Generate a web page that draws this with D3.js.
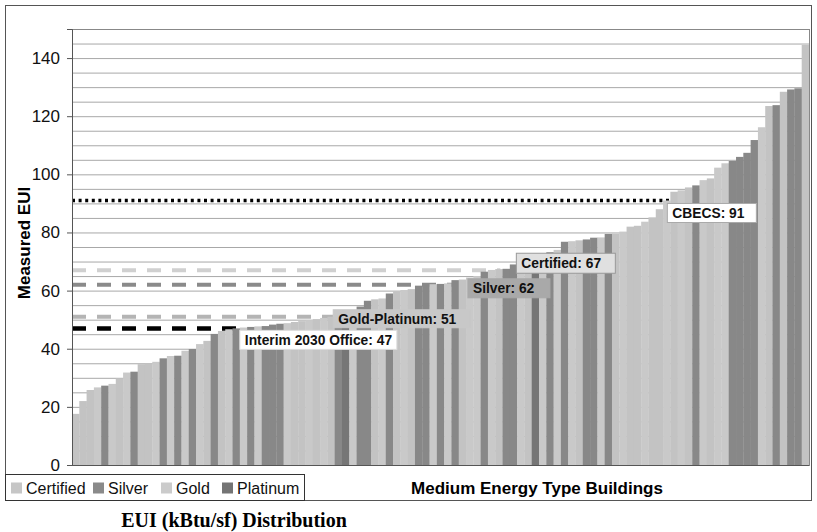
<!DOCTYPE html>
<html><head><meta charset="utf-8">
<script src="https://cdn.jsdelivr.net/npm/d3@7"></script>
<style>html,body{margin:0;padding:0;background:#fff;}svg{display:block;}</style>
</head><body>
<svg id="chart" width="817" height="532"></svg>
<script>
// ---- data ----
const categories = ["Certified", "Silver", "Gold", "Platinum"];
// measured EUI per building, sorted ascending
const euiValues = [17.6,22,25.8,26.7,27.3,27.9,29.8,31.8,32.1,34.7,35.0,35.5,36.7,37.5,37.6,39.3,39.9,41.6,42.7,45.1,
  46.1,46.7,47.0,47.3,47.5,47.7,47.8,48.3,48.6,48.8,49.2,49.5,49.8,50.2,50.6,51.0,51.5,52.0,52.4,54.5,
  56.5,57.0,57.3,59.0,59.8,60.2,60.5,61.7,62.0,62.2,62.3,62.5,63.6,63.8,64.5,65.0,66.5,67.1,67.4,67.5,
  69.0,70.0,71.0,71.5,72.5,73.2,74.0,76.8,77.0,77.3,77.6,78.2,78.3,79.5,79.6,80.3,82.0,82.3,83.7,85.2,
  88.0,91.0,94.0,94.5,95.5,96.2,98.0,98.6,102.3,103.8,104.6,106.0,107.4,111.8,116.2,123.5,123.8,128.4,129.2,129.6,144.5];
// rating per building (C=Certified, S=Silver, G=Gold, P=Platinum), 10 per group
const ratingGroups = ["GGGCSCGCSG","GCSCSCSCGS","GCSCSCSSSC","GGCGCGSPCS","SGCSGCGSSC",
  "SCSGCCSCGS","SCGPCSCSCG","SSCSGCGGCG","GCGCGSCGCC","SSSSCGSGSS","G"];
const yTicks = [0,20,40,60,80,100,120,140];
const refNames = ["CBECS: 91","Certified: 67","Silver: 62","Gold-Platinum: 51","Interim 2030 Office: 47"];
const refValues = [91,67,62,51,47];
const refEndIndex = [82,58.7,53.3,35.8,23]; // line extends to this building position

// ---- style ----
const plot = {left:72, right:809, top:29, bottom:465};
const catColor = {Certified:"#c9c9c9", Silver:"#888888", Gold:"#c3c3c3", Platinum:"#767676"};
const codeMap = {C:"Certified",S:"Silver",G:"Gold",P:"Platinum"};
const refStyles = [
  {stroke:"#000", width:3.5, dash:"3,3.6", box:"#fff", border:"#aaa", dx:-3, dy:3, bh:19, bw:89},
  {stroke:"#d0d0d0", width:4, dash:"14,11", box:"#e0e0e0", border:"#999", dx:16, dy:-17, bh:20, bw:99},
  {stroke:"#8a8a8a", width:4, dash:"14,11", box:"#a9a9a9", border:"#a9a9a9", dx:7, dy:-6, bh:19, bw:82},
  {stroke:"#b4b4b4", width:4, dash:"14,11", box:"#c8c8c8", border:"#c8c8c8", dx:0, dy:-7, bh:18, bw:137},
  {stroke:"#000", width:4.5, dash:"14,11", box:"#fff", border:"#ddd", dx:0, dy:2, bh:19, bw:157}
];

const ratingCodes = ratingGroups.join("").split("");
const svg = d3.select("#chart");
const font = "'Liberation Sans', Arial, sans-serif";

// outer frame
svg.append("rect").attr("x",5.5).attr("y",5.5).attr("width",806).attr("height",495)
  .attr("fill","#fff").attr("stroke","#555").attr("stroke-width",1);

const y = d3.scaleLinear().domain([0,150]).range([plot.bottom, plot.top]);
const x = d3.scaleBand().domain(d3.range(euiValues.length)).range([plot.left, plot.right]).padding(0);
const xPos = d3.scaleLinear().domain([0, euiValues.length]).range([plot.left, plot.right]);

// gridlines every 5
const grid = d3.range(5,151,5);
svg.append("g").selectAll("line").data(grid).join("line")
  .attr("x1",plot.left).attr("x2",plot.right)
  .attr("y1",d=>y(d)+0.5).attr("y2",d=>y(d)+0.5)
  .attr("stroke","#a8a8a8").attr("stroke-width",1);

// reference lines
const refs = refValues.map((v,i)=>({name:refNames[i], v, end:refEndIndex[i], s:refStyles[i]}));
svg.append("g").selectAll("line").data(refs).join("line")
  .attr("x1",plot.left).attr("x2",d=>xPos(d.end))
  .attr("y1",d=>y(d.v)).attr("y2",d=>y(d.v))
  .attr("stroke",d=>d.s.stroke).attr("stroke-width",d=>d.s.width)
  .attr("stroke-dasharray",d=>d.s.dash);

// bars
const bars = euiValues.map((v,i)=>({i, v, cat:codeMap[ratingCodes[i]]}));
svg.append("g").selectAll("rect").data(bars).join("rect")
  .attr("x",d=>x(d.i)).attr("width",x.bandwidth()+0.3)
  .attr("y",d=>y(d.v)).attr("height",d=>y(0)-y(d.v))
  .attr("fill",d=>catColor[d.cat]);

// plot border
svg.append("rect").attr("x",plot.left+0.5).attr("y",plot.top+0.5)
  .attr("width",plot.right-plot.left).attr("height",plot.bottom-plot.top)
  .attr("fill","none").attr("stroke","#888");

// y axis
const yAxis = d3.axisLeft(y).tickValues(yTicks).tickSize(5).tickPadding(7);
const ga = svg.append("g").attr("transform",`translate(${plot.left},0)`).call(yAxis);
ga.select(".domain").attr("stroke","#555");
ga.selectAll(".tick line").attr("stroke","#555");
ga.selectAll(".tick text").attr("font-family",font).attr("font-size",17).attr("fill","#111");

// x axis baseline
svg.append("line").attr("x1",plot.left).attr("x2",plot.right)
  .attr("y1",plot.bottom+0.5).attr("y2",plot.bottom+0.5).attr("stroke","#555");

// reference labels
const lg = svg.append("g").selectAll("g").data(refs).join("g")
  .attr("transform",d=>`translate(${xPos(d.end)+d.s.dx},${y(d.v)+d.s.dy})`);
lg.append("rect").attr("x",0).attr("y",0).attr("width",d=>d.s.bw).attr("height",d=>d.s.bh)
  .attr("fill",d=>d.s.box).attr("stroke",d=>d.s.border);
lg.append("text").attr("x",5).attr("y",d=>d.s.bh/2+5).text(d=>d.name)
  .attr("font-family",font).attr("font-weight","bold").attr("font-size",13.8).attr("fill","#111");

// axis titles
svg.append("text").attr("transform",`translate(30,243) rotate(-90)`)
  .attr("text-anchor","middle").attr("font-family",font).attr("font-weight","bold")
  .attr("font-size",17).text("Measured EUI");
svg.append("text").attr("x",537).attr("y",494).attr("text-anchor","middle")
  .attr("font-family",font).attr("font-weight","bold").attr("font-size",17)
  .text("Medium Energy Type Buildings");

// legend
const legend = svg.append("g");
legend.append("rect").attr("x",5.5).attr("y",474.5).attr("width",299).attr("height",26)
  .attr("fill","#fff").attr("stroke","#333");
const legendColor = {Certified:"#c6c6c6", Silver:"#8a8a8a", Gold:"#cbcbcb", Platinum:"#747474"};
const legX = [11, 93, 161, 222];
const li = legend.selectAll("g").data(categories).join("g")
  .attr("transform",(d,i)=>`translate(${legX[i]},482)`);
li.append("rect").attr("width",11).attr("height",11).attr("y",0.5).attr("fill",d=>legendColor[d]);
li.append("text").attr("x",15).attr("y",12).text(d=>d)
  .attr("font-family",font).attr("font-size",16).attr("fill","#111");

// caption
svg.append("text").attr("x",234).attr("y",527).attr("text-anchor","middle")
  .attr("font-family","'Liberation Serif', 'Times New Roman', serif").attr("font-weight","bold")
  .attr("font-size",20).text("EUI (kBtu/sf) Distribution");
</script>
</body></html>
